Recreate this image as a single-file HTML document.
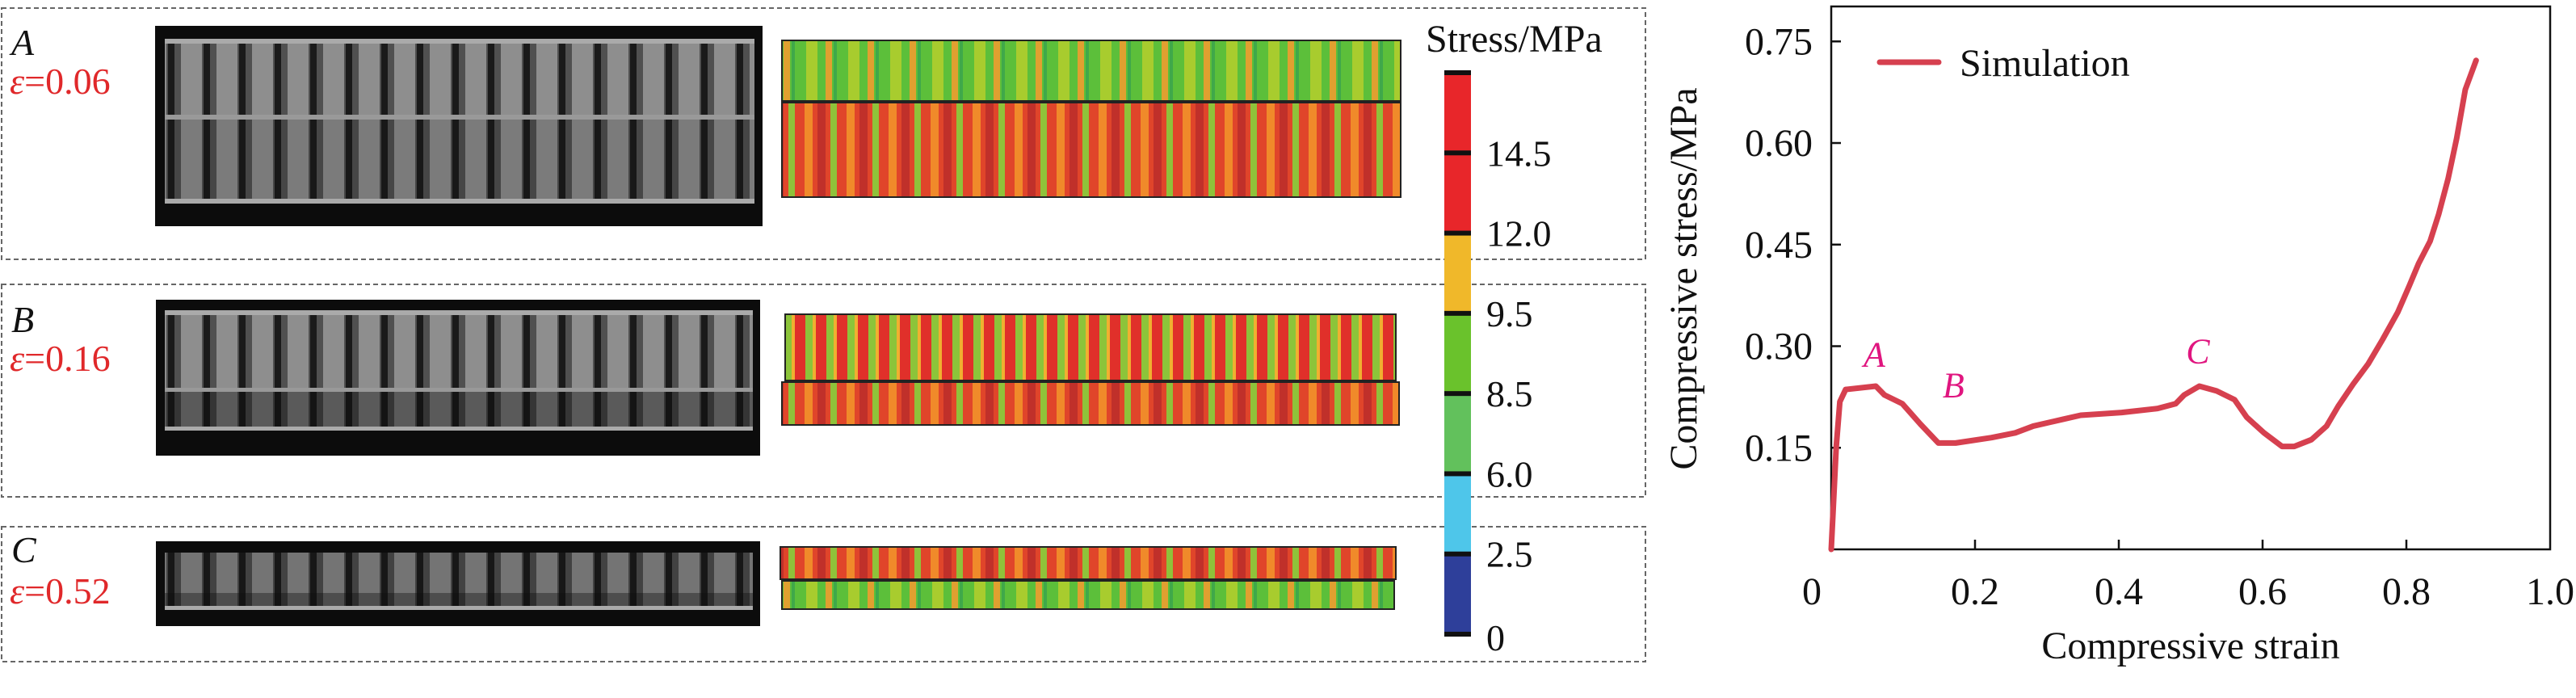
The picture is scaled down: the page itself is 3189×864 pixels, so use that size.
<!DOCTYPE html>
<html><head><meta charset="utf-8"><style>
html,body{margin:0;padding:0;background:#fff;}
svg{display:block;}
text{font-family:"Liberation Serif","Times New Roman",serif;}
</style></head><body>
<svg id="fig" width="3189" height="864" viewBox="0 0 3189 864" xmlns="http://www.w3.org/2000/svg">
<defs>
<pattern id="photoStripe" width="44" height="10" patternUnits="userSpaceOnUse">
<rect width="44" height="10" fill="#505050"/><rect x="4" width="26" height="10" fill="#8e8e8e"/><rect x="32" width="8" height="10" fill="#1a1a1a"/>
</pattern>
<pattern id="greenStripe" width="52" height="10" patternUnits="userSpaceOnUse">
<rect width="52" height="10" fill="#5cbf3a"/><rect x="10" width="14" height="10" fill="#a8cc2e"/><rect x="34" width="8" height="10" fill="#e0a030"/><rect x="44" width="4" height="10" fill="#3fa84a"/>
</pattern>
<pattern id="redStripe" width="52" height="10" patternUnits="userSpaceOnUse">
<rect width="52" height="10" fill="#e0452a"/><rect x="8" width="10" height="10" fill="#f08a2a"/><rect x="24" width="10" height="10" fill="#c0302a"/><rect x="40" width="8" height="10" fill="#8fc23a"/>
</pattern>
<pattern id="mixStripe" width="26" height="10" patternUnits="userSpaceOnUse">
<rect width="26" height="10" fill="#e0302a"/><rect x="9" width="9" height="10" fill="#8cc43a"/><rect x="18" width="4" height="10" fill="#f0b030"/>
</pattern>
</defs>

<g fill="none" stroke="#666" stroke-width="2" stroke-dasharray="6,4">
<rect x="2" y="10" width="2035" height="311"/>
<rect x="2" y="352" width="2035" height="263"/>
<rect x="2" y="652" width="2035" height="167"/>
</g>

<g font-size="46">
<text x="14" y="68" font-style="italic" fill="#111">A</text>
<text x="12" y="116" fill="#e0282a"><tspan font-style="italic">ε</tspan>=0.06</text>
<text x="14" y="411" font-style="italic" fill="#111">B</text>
<text x="12" y="459" fill="#e0282a"><tspan font-style="italic">ε</tspan>=0.16</text>
<text x="14" y="696" font-style="italic" fill="#111">C</text>
<text x="12" y="747" fill="#e0282a"><tspan font-style="italic">ε</tspan>=0.52</text>
</g>

<g>
<rect x="192" y="32" width="752" height="248" fill="#0c0c0c"/>
<rect x="204" y="52" width="730" height="92" fill="url(#photoStripe)"/>
<rect x="204" y="148" width="730" height="100" fill="url(#photoStripe)" opacity="0.85"/>
<rect x="204" y="48" width="730" height="6" fill="#aaa"/><rect x="204" y="142" width="730" height="6" fill="#999"/><rect x="204" y="246" width="730" height="6" fill="#aaa"/>
</g>
<g>
<rect x="193" y="371" width="748" height="193" fill="#0c0c0c"/>
<rect x="204" y="388" width="728" height="94" fill="url(#photoStripe)"/>
<rect x="204" y="484" width="728" height="46" fill="url(#photoStripe)" opacity="0.6"/>
<rect x="204" y="384" width="728" height="6" fill="#aaa"/><rect x="204" y="480" width="728" height="5" fill="#999"/><rect x="204" y="528" width="728" height="5" fill="#aaa"/>
</g>
<g>
<rect x="193" y="670" width="748" height="105" fill="#0c0c0c"/>
<rect x="204" y="684" width="728" height="50" fill="url(#photoStripe)" opacity="0.8"/>
<rect x="204" y="734" width="728" height="18" fill="url(#photoStripe)" opacity="0.5"/>
<rect x="204" y="750" width="728" height="5" fill="#aaa"/>
</g>

<g stroke="#222" stroke-width="2">
<rect x="968" y="50" width="766" height="75" fill="url(#greenStripe)"/>
<rect x="968" y="127" width="766" height="117" fill="url(#redStripe)"/>
</g>
<g stroke="#222" stroke-width="2">
<rect x="972" y="389" width="756" height="82" fill="url(#mixStripe)"/>
<rect x="968" y="473" width="764" height="53" fill="url(#redStripe)"/>
</g>
<g stroke="#222" stroke-width="2">
<rect x="966" y="677" width="762" height="40" fill="url(#redStripe)"/>
<rect x="968" y="719" width="758" height="35" fill="url(#greenStripe)"/>
</g>

<g id="colorbar"></g>
<g id="chart"></g>
</svg>
<script>
const NS='http://www.w3.org/2000/svg';
function mk(tag,attrs,parent){const e=document.createElementNS(NS,tag);for(const k in attrs)e.setAttribute(k,attrs[k]);parent.appendChild(e);return e;}

const cbLevels=[0,2.5,6.0,8.5,9.5,12.0,14.5];
const cbLabels=['0','2.5','6.0','8.5','9.5','12.0','14.5'];
const cbColors=['#2e3f9a','#4ec6ea','#62c15c','#6ac22c','#f0b82a','#e8262a','#e8262a'];
const cb=document.getElementById('colorbar');
const cbTop=90,cbBot=785,cbX=1788,cbW=33,nB=cbColors.length,bh=(cbBot-cbTop)/nB;
for(let i=0;i<nB;i++){
 const r=mk('rect',{x:cbX,y:cbBot-(i+1)*bh,width:cbW,height:bh,fill:cbColors[i]},cb);
 
 
}
for(let i=0;i<=nB;i++){mk('rect',{x:cbX,y:cbBot-i*bh-3,width:cbW,height:6,fill:'#111'},cb);}
cbLabels.forEach((l,i)=>{
 const t=mk('text',{x:1840,y:cbBot-i*bh+16+(i===0?4:0),'font-size':46,fill:'#111'},cb);
 t.textContent=l;
 
 
});
const cbt=mk('text',{x:1765,y:64,'font-size':48,fill:'#111'},cb);
cbt.textContent='Stress/MPa';



const strain=[0,0.007,0.012,0.02,0.062,0.074,0.099,0.124,0.149,0.173,0.223,0.256,0.281,0.322,0.347,0.404,0.454,0.479,0.491,0.512,0.536,0.561,0.578,0.602,0.627,0.644,0.668,0.689,0.705,0.726,0.747,0.767,0.788,0.804,0.817,0.833,0.845,0.858,0.870,0.882,0.897];
const stress=[0,0.152,0.218,0.236,0.241,0.228,0.215,0.185,0.157,0.157,0.165,0.172,0.182,0.192,0.198,0.202,0.208,0.215,0.228,0.241,0.234,0.221,0.195,0.172,0.152,0.152,0.162,0.182,0.211,0.244,0.274,0.310,0.350,0.389,0.422,0.455,0.495,0.547,0.607,0.679,0.722];
const xTicks=[0,0.2,0.4,0.6,0.8,1.0];
const xTickLabels=['0','0.2','0.4','0.6','0.8','1.0'];
const yTicks=[0.15,0.30,0.45,0.60,0.75];
const yTickLabels=['0.15','0.30','0.45','0.60','0.75'];
const marks=[{l:'A',x:0.06,y:0.27},{l:'B',x:0.17,y:0.225},{l:'C',x:0.51,y:0.275}];

const X0=2267,X1=3157,Y0=680,YT=8;
const xs=v=>X0+v*(X1-X0);
const ys=v=>Y0-v*838.3;
const ch=document.getElementById('chart');
const frame=mk('rect',{x:X0,y:YT,width:X1-X0,height:Y0-YT,fill:'none',stroke:'#111','stroke-width':2.5},ch);


xTicks.forEach((v,i)=>{
 if(i>0&&i<xTicks.length-1) mk('line',{x1:xs(v),x2:xs(v),y1:Y0,y2:Y0-12,stroke:'#111','stroke-width':2.5},ch);
 const t=mk('text',{x:xs(v)-(i===0?24:0),y:748,'font-size':48,'text-anchor':'middle',fill:'#111'},ch);
 t.textContent=xTickLabels[i];
 
 
});
yTicks.forEach((v,i)=>{
 mk('line',{x1:X0,x2:X0+12,y1:ys(v),y2:ys(v),stroke:'#111','stroke-width':2.5},ch);
 const t=mk('text',{x:2244,y:ys(v)+16,'font-size':48,'text-anchor':'end',fill:'#111'},ch);
 t.textContent=yTickLabels[i];
 
 
});
const xt=mk('text',{x:2712,y:815,'font-size':48,'text-anchor':'middle',fill:'#111'},ch);
xt.textContent='Compressive strain';


const yt=mk('text',{x:0,y:0,'font-size':48,'text-anchor':'middle',fill:'#111',transform:'translate(2100,345) rotate(-90)'},ch);
yt.textContent='Compressive stress/MPa';



const path=mk('polyline',{points:strain.map((s,i)=>xs(s)+','+ys(stress[i])).join(' '),fill:'none',stroke:'#d6404f','stroke-width':7,'stroke-linejoin':'round','stroke-linecap':'round'},ch);



marks.forEach(m=>{
 const t=mk('text',{x:xs(m.x),y:ys(m.y),'font-size':44,'font-style':'italic','text-anchor':'middle',fill:'#e0157f'},ch);
 t.textContent=m.l;
 
 
});

const lg=mk('g',{},ch);


mk('line',{x1:2327,x2:2400,y1:77,y2:77,stroke:'#d6404f','stroke-width':7,'stroke-linecap':'round'},lg);
const lt=mk('text',{x:2426,y:94,'font-size':48,fill:'#111'},lg);
lt.textContent='Simulation';
</script>
</body></html>
